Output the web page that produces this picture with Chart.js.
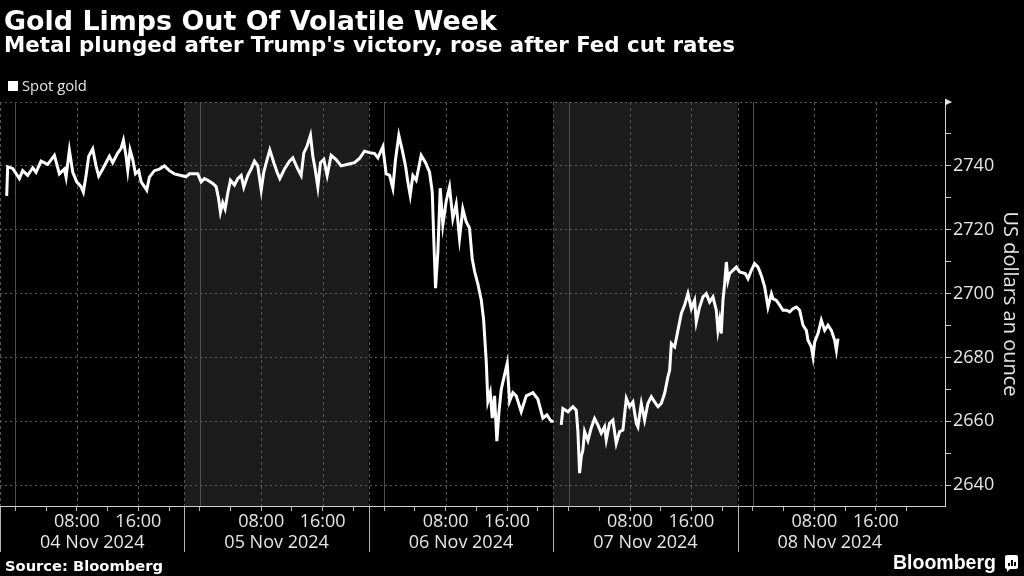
<!DOCTYPE html>
<html>
<head>
<meta charset="utf-8">
<script src="https://cdn.jsdelivr.net/npm/chart.js@4.4.1/dist/chart.umd.min.js"></script>
<style>
html,body{margin:0;padding:0;background:#000;width:1024px;height:576px;overflow:hidden;}
#wrap{position:relative;width:1024px;height:576px;}
canvas{position:absolute;left:0;top:0;}
.t{position:absolute;white-space:nowrap;color:#fff;}
#title{left:4px;top:7px;font-family:'DejaVu Sans';font-weight:bold;font-size:27px;line-height:27px;}
#sub{left:4px;top:35px;font-family:'DejaVu Sans';font-weight:bold;font-size:19px;line-height:19px;}
#legbox{position:absolute;left:8px;top:81px;width:10px;height:10px;background:#fff;}
#legtxt{left:22px;top:78px;font-family:'Open Sans';font-size:15px;line-height:15px;color:#e6e6e6;}
#src{left:5px;top:558px;font-family:'DejaVu Sans';font-weight:bold;font-size:15px;line-height:15px;}
#logo{left:893px;top:553px;font-family:'Liberation Sans';font-weight:bold;font-size:19.5px;line-height:19.5px;}
#icon{position:absolute;left:1005px;top:555px;width:13px;height:14px;background:#fff;border-radius:2px;}
#icon b{position:absolute;bottom:3px;width:2px;background:#000;}
#tail{position:absolute;left:1007px;top:569px;width:0;height:0;border-left:3px solid #fff;border-bottom:3px solid transparent;}
</style>
</head>
<body>
<div id="wrap">
<canvas id="c" width="1024" height="576"></canvas>
<div class="t" id="title" data-w="493">Gold Limps Out Of Volatile Week</div>
<div class="t" id="sub" data-w="731">Metal plunged after Trump's victory, rose after Fed cut rates</div>
<div id="legbox"></div>
<div class="t" id="legtxt" data-w="65">Spot gold</div>
<div class="t" id="src" data-w="158">Source: Bloomberg</div>
<div class="t" id="logo" data-w="103">Bloomberg</div>
<div id="icon"><b style="left:3px;height:3px"></b><b style="left:6px;height:6px"></b><b style="left:9px;height:4px"></b></div>
<div id="tail"></div>
</div>
<script>
// ---- Data: hours since 04 Nov 2024 00:00, spot gold in USD/oz ----
const session1Hours = [-1.13,-1.0,-0.35,0.52,0.95,1.6,2.26,2.69,3.34,4.21,5.08,5.73,6.38,6.6,7.03,7.47,7.99,8.55,8.85,9.2,9.55,10.07,10.5,10.85,11.37,12.24,12.67,13.32,13.76,14.06,14.41,14.63,14.93,15.28,15.63,16.06,16.37,16.8,17.1,17.45,18.1,18.75,19.4,20.05,20.7,21.57,22.2,22.66];
const session1Prices = [2730.6,2739.7,2739.2,2736.0,2738.5,2737.0,2739.4,2738.0,2741.5,2740.5,2743.3,2737.5,2739.0,2736.5,2744.9,2738.0,2735.0,2733.5,2731.8,2737.0,2743.0,2745.3,2740.0,2736.8,2739.0,2743.0,2741.0,2744.0,2745.5,2748.0,2743.0,2738.6,2745.0,2742.0,2737.5,2738.5,2735.0,2733.5,2732.4,2736.5,2738.5,2739.0,2740.0,2738.5,2737.5,2737.0,2736.6,2737.5];

const session2Hours = [22.87,23.74,24.18,24.61,25.04,25.69,26.13,26.43,26.69,26.99,27.3,27.65,28.0,28.52,28.95,29.39,29.73,30.25,30.69,31.12,31.55,32.0,32.33,32.77,33.12,33.64,34.07,34.42,35.03,35.68,36.11,36.76,37.2,37.54,37.98,38.41,38.72,39.02,39.37,39.71,40.15,40.58,41.1,41.75,42.4,43.27,44.14,44.79,45.44,46.3];
const session2Prices = [2737.5,2737.5,2735.0,2736.0,2735.5,2734.5,2733.5,2730.0,2725.5,2728.5,2726.5,2731.5,2735.5,2734.0,2736.0,2737.0,2733.3,2737.0,2739.0,2741.5,2740.0,2732.4,2738.0,2742.0,2745.0,2741.0,2738.0,2736.0,2739.0,2741.5,2742.5,2739.0,2737.0,2744.0,2746.3,2749.6,2743.0,2739.0,2733.4,2741.0,2742.0,2737.0,2743.3,2742.0,2740.0,2740.5,2741.0,2742.3,2744.6,2744.0];

const session3Hours = [46.74,47.18,47.83,48.26,48.7,49.13,49.48,49.91,50.35,50.78,51.08,51.39,51.74,52.17,52.82,53.39,53.91,54.26,54.47,54.69,54.99,55.3,55.64,56.08,56.51,56.94,57.38,57.81,58.24,58.68,59.11,59.46,59.77,60.2,60.64,60.94,61.29,61.5,61.81,62.07,62.37,62.67,62.93,63.24,63.67,64.02,64.32,64.75,65.19,65.84,66.5,67.36,68.0,68.66,69.18,69.75,70.05];
const session3Prices = [2743.9,2742.5,2746.0,2737.5,2737.1,2733.0,2742.0,2749.6,2745.0,2740.0,2735.0,2730.8,2737.0,2735.5,2743.3,2741.0,2738.0,2731.9,2716.3,2701.7,2713.0,2733.0,2721.5,2729.0,2733.4,2723.5,2728.0,2717.3,2726.5,2722.5,2720.5,2711.0,2707.0,2703.0,2698.0,2692.0,2678.7,2666.3,2669.0,2661.0,2668.0,2653.8,2662.5,2670.0,2674.6,2678.2,2666.3,2669.0,2668.0,2663.0,2668.0,2669.0,2667.0,2661.0,2662.0,2660.0,2660.0];

const gapHour = 70.5;

const session4Hours = [71.05,71.27,71.92,72.57,73.0,73.22,73.44,73.66,73.87,74.09,74.52,74.96,75.39,75.82,76.26,76.69,76.91,77.34,77.77,78.21,78.65,79.08,79.52,79.95,80.38,80.82,81.03,81.47,81.9,82.33,82.77,83.2,83.64,84.07,84.51,84.94,85.16,85.38,85.81,86.24,86.68,87.11,87.54,87.98,88.41,88.63,89.06,89.5,89.93,90.36,90.8,91.23,91.45,91.67,91.88,92.1,92.32,92.54,92.75,92.97,93.4,93.84,94.27];
const session4Prices = [2658.9,2664.0,2663.0,2664.6,2663.5,2656.8,2643.8,2649.0,2651.0,2656.8,2654.0,2658.0,2660.9,2658.9,2656.3,2658.3,2654.2,2659.4,2660.4,2653.1,2656.8,2657.3,2667.2,2664.6,2666.1,2659.4,2658.3,2665.6,2660.4,2665.6,2667.7,2666.1,2664.6,2665.6,2668.8,2674.0,2676.0,2684.4,2683.3,2688.5,2693.8,2696.4,2700.0,2695.3,2697.9,2691.1,2695.8,2699.0,2700.0,2697.4,2699.0,2694.8,2688.5,2691.7,2687.5,2697.9,2703.1,2709.9,2704.2,2706.3,2707.3,2708.3,2706.8];

const session5Hours = [95.0,95.36,95.79,96.22,96.66,97.09,97.53,97.96,98.4,98.61,99.05,99.48,99.91,100.35,100.78,101.22,101.65,102.08,102.52,102.95,103.17,103.6,103.82,104.04,104.47,104.9,105.34,105.77,106.21,106.64,106.86,107.07];
const session5Prices = [2706.3,2704.7,2707.3,2709.4,2708.3,2705.7,2702.1,2695.8,2700.0,2698.4,2697.9,2696.4,2694.8,2694.8,2694.3,2695.3,2695.8,2694.8,2690.1,2688.5,2685.4,2683.3,2680.2,2684.9,2687.5,2691.7,2688.5,2690.1,2688.5,2685.4,2682.3,2685.9];

// ---- Axis definitions ----
const dayLabels = ['04 Nov 2024','05 Nov 2024','06 Nov 2024','07 Nov 2024','08 Nov 2024'];
const dayLabelHours = [10, 34, 58, 82, 106];
const timeTickHours = [0,4,8,12,16,20,24,28,32,36,40,44,48,52,56,60,64,68,72,76,80,84,88,92,96,100,104,108,112,116];
const sessionBreakHours = [-2, 22, 46, 70, 94];
const shadedSessions = [[22, 46], [70, 94]];
const midnightHours = [0, 24, 48, 72, 96];
const labelledHours = [8, 16, 32, 40, 56, 64, 80, 88, 104, 112];
const yTickValues = [2640,2650,2660,2670,2680,2690,2700,2710,2720,2730,2740,2750,2760];
const xMin = -2, xMax = 121, yMin = 2633.5, yMax = 2760;

// fit header/footer text widths
document.querySelectorAll('[data-w]').forEach(el => {
  const w = el.getBoundingClientRect().width;
  const fs = parseFloat(getComputedStyle(el).fontSize);
  el.style.fontSize = (fs * (+el.dataset.w) / w).toFixed(2) + 'px';
});

const points = [];
const addSession = (hs, ps) => hs.forEach((h, i) => points.push({x: h, y: ps[i]}));
addSession(session1Hours, session1Prices);
addSession(session2Hours, session2Prices);
addSession(session3Hours, session3Prices);
points.push({x: gapHour, y: null});
addSession(session4Hours, session4Prices);
addSession(session5Hours, session5Prices);

const allXTicks = timeTickHours.concat(dayLabelHours).sort((a, b) => a - b);

const decor = {
  id: 'decor',
  beforeDraw(chart) {
    const {ctx, chartArea: a, scales: {x}} = chart;
    ctx.save();
    ctx.fillStyle = '#000';
    ctx.fillRect(0, 0, chart.width, chart.height);
    ctx.fillStyle = '#1c1c1c';
    shadedSessions.forEach(([s, e]) => {
      const x1 = x.getPixelForValue(s), x2 = x.getPixelForValue(e);
      ctx.fillRect(x1, a.top, x2 - x1, a.bottom - a.top);
    });
    ctx.restore();
  },
  beforeDatasetsDraw(chart) {
    const {ctx, chartArea: a, scales: {x}} = chart;
    ctx.save();
    ctx.lineWidth = 1;
    ctx.strokeStyle = '#4f4f4f';
    midnightHours.forEach(h => {
      const px = Math.round(x.getPixelForValue(h)) + 0.5;
      ctx.beginPath(); ctx.moveTo(px, a.top); ctx.lineTo(px, a.bottom); ctx.stroke();
    });
    ctx.setLineDash([3, 3]);
    ctx.strokeStyle = '#555';
    labelledHours.concat(sessionBreakHours).forEach(h => {
      const px = Math.round(x.getPixelForValue(h)) + 0.5;
      ctx.beginPath(); ctx.moveTo(px, a.top); ctx.lineTo(px, a.bottom); ctx.stroke();
    });
    ctx.restore();
  },
  afterDraw(chart) {
    const {ctx, chartArea: a, scales: {x}} = chart;
    ctx.save();
    ctx.strokeStyle = '#b5b5b5';
    ctx.lineWidth = 1;
    sessionBreakHours.forEach(h => {
      const px = Math.max(0.5, Math.round(x.getPixelForValue(h)) + 0.5);
      ctx.beginPath(); ctx.moveTo(px, a.bottom); ctx.lineTo(px, a.bottom + 46); ctx.stroke();
    });
    ctx.fillStyle = '#e0e0e0';
    ctx.beginPath();
    ctx.moveTo(a.right, a.top - 3.5);
    ctx.lineTo(a.right + 7, a.top);
    ctx.lineTo(a.right, a.top + 3.5);
    ctx.closePath(); ctx.fill();
    ctx.restore();
  }
};

new Chart(document.getElementById('c'), {
  type: 'line',
  data: {datasets: [{
    label: 'Spot gold', data: points, borderColor: '#ffffff', borderWidth: 3,
    pointRadius: 0, tension: 0, spanGaps: false, fill: false
  }]},
  options: {
    responsive: false, animation: false, devicePixelRatio: 1,
    layout: {padding: {top: 102, left: 0, right: 0, bottom: 0}},
    plugins: {legend: {display: false}, tooltip: {enabled: false}, title: {display: false}},
    scales: {
      x: {
        type: 'linear', position: 'bottom', min: xMin, max: xMax,
        afterBuildTicks: ax => { ax.ticks = allXTicks.map(v => ({value: v})); },
        afterFit: ax => { ax.height = 70; },
        grid: {drawOnChartArea: false, drawTicks: true, tickLength: 5, tickWidth: 1,
          tickColor: c => dayLabelHours.includes(c.tick && c.tick.value) ? 'rgba(0,0,0,0)' : '#b5b5b5'},
        border: {display: true, color: '#cfcfcf', width: 1},
        ticks: {
          autoSkip: false, maxRotation: 0, minRotation: 0, padding: 0, color: '#e6e6e6',
          font: {family: 'Open Sans', size: 18, lineHeight: 1.17},
          callback: v => {
            const d = dayLabelHours.indexOf(v);
            if (d >= 0) return ['', dayLabels[d]];
            const hh = ((v % 24) + 24) % 24;
            if (hh === 8) return '08:00';
            if (hh === 16) return '16:00';
            return '';
          }
        }
      },
      y: {
        type: 'linear', position: 'right', min: yMin, max: yMax,
        afterBuildTicks: ax => { ax.ticks = yTickValues.map(v => ({value: v})); },
        afterFit: ax => { ax.width = 79; },
        grid: {lineWidth: 1, drawTicks: true, tickLength: 6, tickColor: '#cfcfcf',
          color: c => (c.tick && c.tick.value % 20 === 0) ? '#5c5c5c' : 'rgba(0,0,0,0)'},
        border: {display: true, color: '#cfcfcf', width: 1, dash: [2, 3]},
        ticks: {
          padding: 2, color: '#e6e6e6', font: {family: 'Open Sans', size: 18},
          callback: v => (v % 20 === 0 && v < yMax) ? String(v) : ''
        },
        title: {display: true, text: 'US dollars an ounce', color: '#e6e6e6',
          font: {family: 'Open Sans', size: 20}, padding: {top: 2, bottom: 0}}
      }
    }
  },
  plugins: [decor]
});
</script>
</body>
</html>
